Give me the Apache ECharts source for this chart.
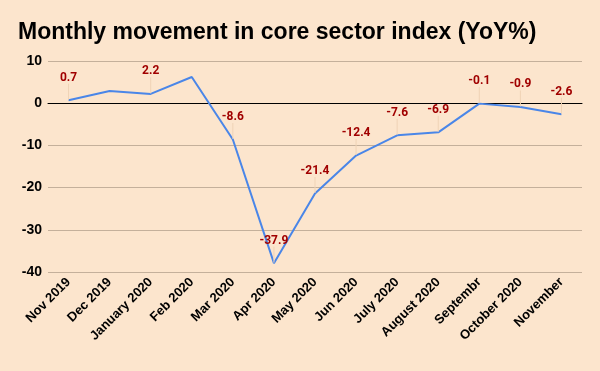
<!DOCTYPE html>
<html><head><meta charset="utf-8">
<script src="https://cdn.jsdelivr.net/npm/echarts@6/dist/echarts.min.js"></script>
<style>html,body{margin:0;padding:0;background:#fce5cd;}#c{width:600px;height:371px;}</style>
</head><body><div id="c"></div>
<script>
const categories = ["Nov 2019","Dec 2019","January 2020","Feb 2020","Mar 2020","Apr 2020","May 2020","Jun 2020","July 2020","August 2020","Septembr","October 2020","November"];
const values = [0.7, 2.9, 2.2, 6.2, -8.6, -37.9, -21.4, -12.4, -7.6, -6.9, -0.1, -0.9, -2.6];
const showLabel = [true, false, true, false, true, true, true, true, true, true, true, true, true];
const yTicks = [10, 0, -10, -20, -30, -40];

const chart = echarts.init(document.getElementById('c'));
chart.setOption({
  backgroundColor: '#fce5cd',
  animation: false,
  title: {
    text: 'Monthly movement in core sector index (YoY%)',
    left: 13, top: 16,
    textStyle: {fontFamily: 'Liberation Sans', fontWeight: 'bold', fontSize: 23, color: '#000'}
  },
  grid: {left: 48, right: 18, top: 61, bottom: 99},
  xAxis: {
    type: 'category', data: categories, boundaryGap: true,
    axisLine: {show: true, onZero: true, lineStyle: {color: '#000', width: 1}},
    axisTick: {show: false},
    axisLabel: {rotate: 45, interval: 0, margin: 8, color: '#000', fontFamily: 'Liberation Sans', fontWeight: 'bold', fontSize: 13}
  },
  yAxis: {
    type: 'value', min: -40, max: 10, interval: 10,
    axisLine: {show: false}, axisTick: {show: false},
    splitLine: {lineStyle: {color: '#c4b09b', width: 1}},
    axisLabel: {color: '#000', fontFamily: 'Liberation Sans', fontWeight: 'bold', fontSize: 14, margin: 6}
  },
  series: [{
    type: 'line',
    data: values.map((v, i) => ({value: v, label: {show: showLabel[i]}, labelLine: {show: showLabel[i]}})),
    symbol: 'circle', symbolSize: 1, showSymbol: true,
    itemStyle: {color: 'rgba(0,0,0,0)', borderWidth: 0},
    lineStyle: {color: '#4a86e8', width: 2},
    label: {show: true, position: 'top', distance: 3, color: '#a00000', fontFamily: 'Roboto', fontWeight: 'bold', fontSize: 12},
    labelLayout: {dy: -13},
    labelLine: {show: true, lineStyle: {color: '#efd3b6', width: 1}}
  }]
});
</script></body></html>
